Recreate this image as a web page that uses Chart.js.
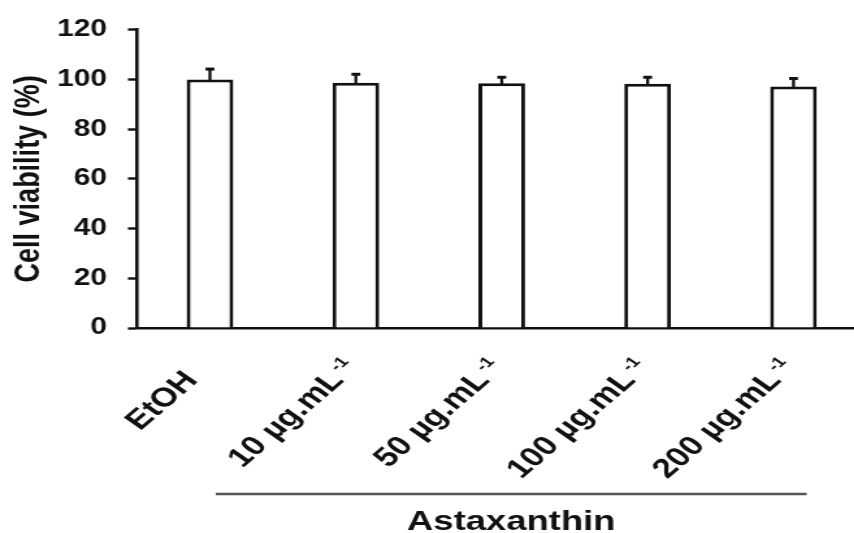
<!DOCTYPE html>
<html>
<head>
<meta charset="utf-8">
<script src="https://cdn.jsdelivr.net/npm/chart.js@4.4.1/dist/chart.umd.min.js"></script>
<style>
  html, body { margin: 0; padding: 0; background: #fff; overflow: hidden; width: 854px; height: 533px; }
  /* the figure is set in a wide bold face: draw narrow, then widen horizontally */
  #wrap { position: absolute; left: 0; top: 0; width: 680px; height: 533px; transform: scaleX(1.3); transform-origin: 0 0; }
</style>
</head>
<body>
<div id="wrap"><canvas id="c"></canvas></div>
<script>
// Cell viability after treatment (mean, upper SD)
const categories = ['EtOH', '10 µg.mL⁻¹', '50 µg.mL⁻¹', '100 µg.mL⁻¹', '200 µg.mL⁻¹'];
const viability = [100, 98.7, 98.5, 98.3, 97.2];
const viabilityErr = [4.2, 3.4, 2.4, 2.6, 3.2];
const yTicks = [0, 20, 40, 60, 80, 100, 120];
const yTitle = 'Cell viability (%)';
const groupLabel = 'Astaxanthin';
const groupSpan = [0.04, 4.09];   // category-index range covered by the group line

const FONT = '"Liberation Sans", Arial, sans-serif';
const INK = '#111';
const SUP = '⁻¹';

// upper error bars with a short cap
const errorBars = {
  id: 'errorBars',
  afterDatasetsDraw(chart) {
    const { ctx, scales: { y } } = chart;
    const meta = chart.getDatasetMeta(0);
    ctx.save();
    ctx.strokeStyle = INK;
    ctx.lineCap = 'butt';
    meta.data.forEach((bar, i) => {
      const top = y.getPixelForValue(viability[i] + viabilityErr[i]);
      ctx.lineWidth = 2.3;
      ctx.beginPath();
      ctx.moveTo(bar.x, bar.y + 1);
      ctx.lineTo(bar.x, top);
      ctx.stroke();
      ctx.lineWidth = 3;
      ctx.beginPath();
      ctx.moveTo(bar.x - 3.4, top);
      ctx.lineTo(bar.x + 3.4, top);
      ctx.stroke();
    });
    ctx.restore();
  }
};

// slanted category labels; a trailing "⁻¹" is set as a raised "-1"
const slantedLabels = {
  id: 'slantedLabels',
  afterDraw(chart) {
    const { ctx, scales: { x } } = chart;
    const angle = -48 * Math.PI / 180;
    ctx.save();
    ctx.fillStyle = INK;
    ctx.textBaseline = 'alphabetic';
    categories.forEach((label, i) => {
      let main = label, sup = '';
      if (label.endsWith(SUP)) { main = label.slice(0, -SUP.length); sup = '-1'; }
      const px = x.getPixelForTick(i) - 8.5;
      const py = x.top + 53;
      ctx.save();
      ctx.translate(px, py);
      ctx.rotate(angle);
      ctx.textAlign = 'right';
      ctx.font = 'bold 27px ' + FONT;
      ctx.fillText(main, 0, 0);
      if (sup) {
        ctx.font = 'bold 15px ' + FONT;
        ctx.textAlign = 'left';
        ctx.fillText(sup, 3, -10);
      }
      ctx.restore();
    });
    ctx.restore();
  }
};

// group line under the treated columns, with its label
const groupBracket = {
  id: 'groupBracket',
  afterDraw(chart) {
    const { ctx, scales: { x }, chartArea } = chart;
    const x0 = x.getPixelForValue(groupSpan[0]);
    const x1 = x.getPixelForValue(groupSpan[1]);
    const lineY = chartArea.bottom + 166;
    ctx.save();
    ctx.strokeStyle = '#555';
    ctx.lineWidth = 2.6;
    ctx.beginPath();
    ctx.moveTo(x0, lineY);
    ctx.lineTo(x1, lineY);
    ctx.stroke();
    ctx.fillStyle = INK;
    ctx.font = 'bold 28px ' + FONT;
    ctx.textAlign = 'center';
    ctx.textBaseline = 'alphabetic';
    ctx.fillText(groupLabel, (x0 + x1) / 2, lineY + 36);
    ctx.restore();
  }
};

new Chart(document.getElementById('c'), {
  type: 'bar',
  data: {
    labels: categories,
    datasets: [{
      data: viability,
      backgroundColor: '#fff',
      borderColor: INK,
      borderWidth: 3,
      barPercentage: 0.32,
      categoryPercentage: 1.0
    }]
  },
  options: {
    responsive: true,
    maintainAspectRatio: false,
    animation: false,
    layout: { padding: { top: 25, right: 13.5, left: 0, bottom: 0 } },
    plugins: { legend: { display: false }, tooltip: { enabled: false } },
    scales: {
      x: {
        grid: { display: false, drawTicks: false },
        border: { display: true, color: INK, width: 2.6 },
        ticks: { display: false, autoSkip: false },
        afterFit(scale) { scale.height = 205; }
      },
      y: {
        min: 0,
        max: 120,
        afterBuildTicks(scale) { scale.ticks = yTicks.map(v => ({ value: v })); },
        grid: { drawOnChartArea: false, drawTicks: true, tickLength: 7, tickWidth: 2.4, tickColor: INK },
        border: { display: true, color: INK, width: 2.6 },
        ticks: {
          padding: 16,
          color: INK,
          font: { family: FONT, size: 23, weight: 'bold' }
        },
        title: {
          display: true,
          text: yTitle,
          color: INK,
          padding: { top: 6, bottom: 0 },
          font: { family: FONT, size: 27, weight: 'bold', lineHeight: 1.2 }
        },
        afterFit(scale) { scale.width = 105.4; }
      }
    }
  },
  plugins: [errorBars, slantedLabels, groupBracket]
});
</script>
</body>
</html>
